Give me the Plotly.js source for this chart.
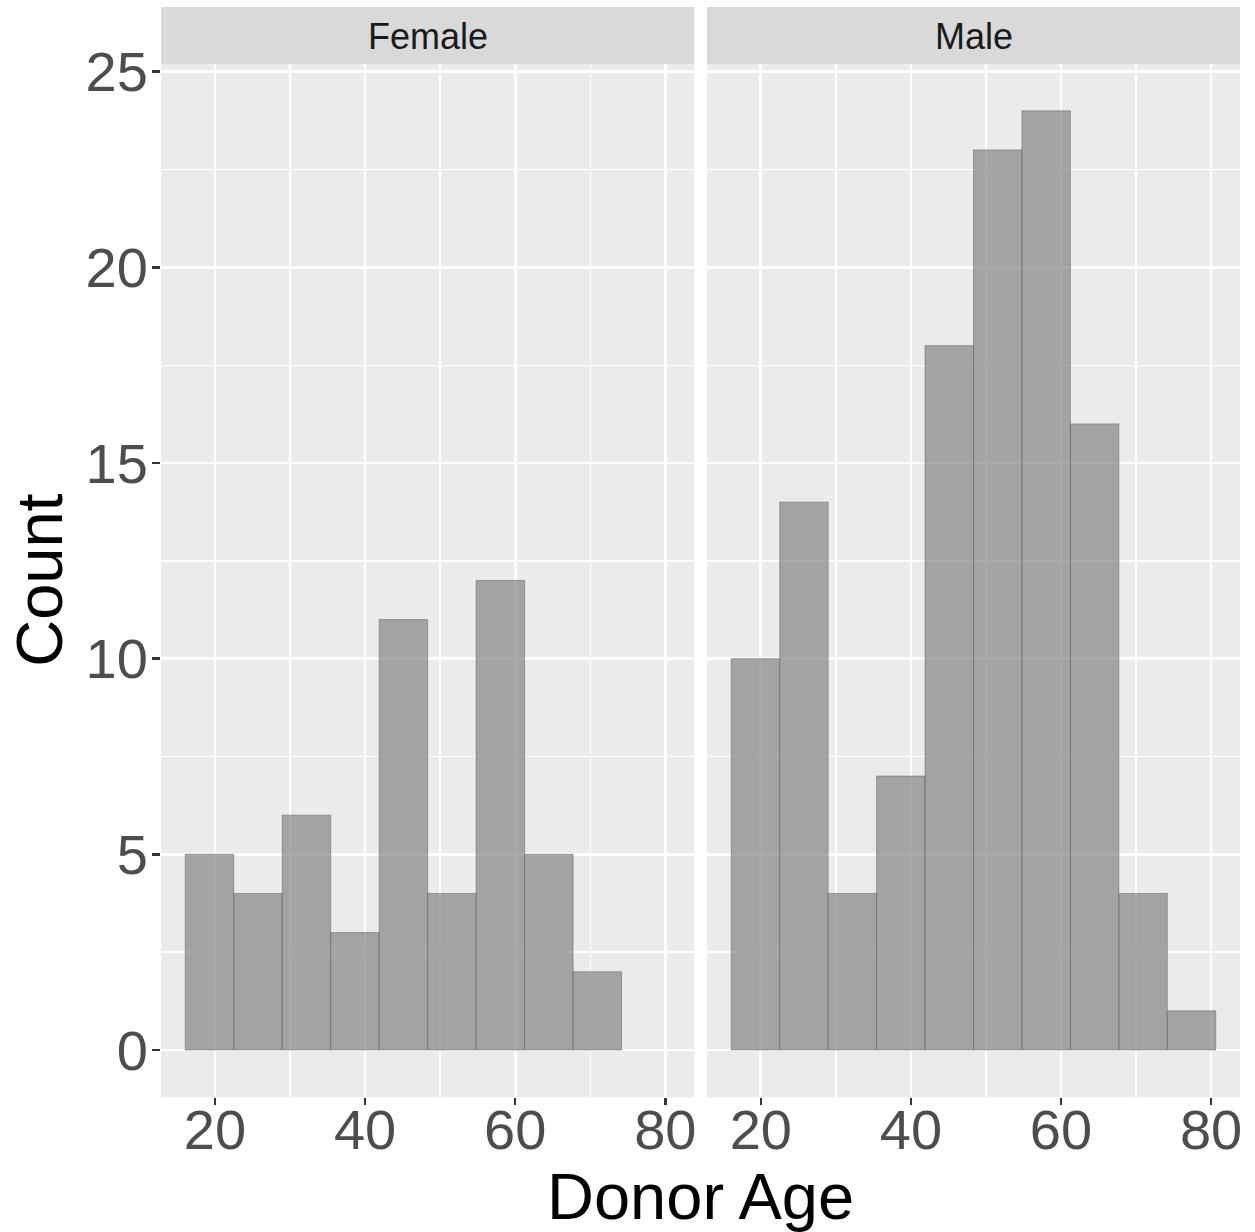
<!DOCTYPE html>
<html>
<head>
<meta charset="utf-8">
<script src="https://cdn.plot.ly/plotly-3.0.1.min.js"></script>
<style>html,body{margin:0;padding:0;background:#fff;}#chart{width:1255px;height:1232px;}</style>
</head>
<body>
<div id="chart"></div>
<script>
// Data
const panels = ["Female", "Male"];
const binStart = 16.05;
const binWidth = 6.458;
const femaleCounts = [5, 4, 6, 3, 11, 4, 12, 5, 2];
const maleCounts = [10, 14, 4, 7, 18, 23, 24, 16, 4, 1];
const xTicks = [20, 40, 60, 80];
const yTicks = [0, 5, 10, 15, 20, 25];

function centers(counts) {
  return counts.map((_, i) => binStart + binWidth * (i + 0.5));
}

const W = 1255, H = 1232;
const px = v => v / W;
const py = v => 1 - v / H;

const fDom = [px(161), px(694.3)];
const mDom = [px(707), px(1240)];
const yDom = [py(1097.3), py(64.3)];

const barStyle = {
  color: 'rgba(132,132,132,0.7)',
  line: {color: 'rgba(95,95,95,0.5)', width: 1}
};

const traces = [
  {type: 'bar', x: centers(femaleCounts), y: femaleCounts, width: binWidth,
   marker: barStyle, xaxis: 'x', yaxis: 'y', hoverinfo: 'x+y', showlegend: false},
  {type: 'bar', x: centers(maleCounts), y: maleCounts, width: binWidth,
   marker: barStyle, xaxis: 'x2', yaxis: 'y2', hoverinfo: 'x+y', showlegend: false}
];

const font = "'Liberation Sans', Arial, sans-serif";
const xRange = [12.82, 83.86];
const yRange = [-1.21, 25.19];

function xAxis(dom, anchor) {
  return {
    domain: dom, anchor: anchor, range: xRange,
    tickmode: 'array', tickvals: xTicks, ticktext: xTicks.map(String),
    ticks: 'outside', ticklen: 7, tickwidth: 2.5, tickcolor: '#333333',
    ticklabelstandoff: -24,
    tickfont: {family: font, size: 56, color: '#4D4D4D'},
    showgrid: true, gridcolor: '#FFFFFF', gridwidth: 2.8,
    minor: {tickmode: 'array', tickvals: [30, 50, 70], showgrid: true, gridcolor: '#FFFFFF', gridwidth: 1.4, ticks: ''},
    zeroline: false, showline: false, fixedrange: true
  };
}

const layout = {
  width: W, height: H,
  margin: {l: 0, r: 0, t: 0, b: 0},
  paper_bgcolor: '#FFFFFF', plot_bgcolor: '#EBEBEB',
  bargap: 0, showlegend: false,
  xaxis: xAxis(fDom, 'y'),
  xaxis2: xAxis(mDom, 'y2'),
  yaxis: {
    domain: yDom, anchor: 'x', range: yRange,
    tickmode: 'array', tickvals: yTicks, ticktext: yTicks.map(String),
    ticks: 'outside', ticklen: 8, tickwidth: 2.5, tickcolor: '#333333',
    ticklabelstandoff: -7,
    tickfont: {family: font, size: 56, color: '#4D4D4D'},
    showgrid: true, gridcolor: '#FFFFFF', gridwidth: 2.8,
    minor: {tickmode: 'array', tickvals: [2.5, 7.5, 12.5, 17.5, 22.5], showgrid: true, gridcolor: '#FFFFFF', gridwidth: 1.4, ticks: ''},
    zeroline: false, showline: false, fixedrange: true
  },
  yaxis2: {
    domain: yDom, anchor: 'x2', range: yRange, matches: 'y',
    tickmode: 'array', tickvals: yTicks, showticklabels: false, ticks: '',
    showgrid: true, gridcolor: '#FFFFFF', gridwidth: 2.8,
    minor: {tickmode: 'array', tickvals: [2.5, 7.5, 12.5, 17.5, 22.5], showgrid: true, gridcolor: '#FFFFFF', gridwidth: 1.4, ticks: ''},
    zeroline: false, showline: false, fixedrange: true
  },
  shapes: [
    {type: 'rect', xref: 'paper', yref: 'paper', x0: fDom[0], x1: fDom[1], y0: yDom[1], y1: py(7),
     fillcolor: '#D9D9D9', line: {width: 0}, layer: 'below'},
    {type: 'rect', xref: 'paper', yref: 'paper', x0: mDom[0], x1: mDom[1], y0: yDom[1], y1: py(7),
     fillcolor: '#D9D9D9', line: {width: 0}, layer: 'below'}
  ],
  annotations: [
    {text: panels[0], xref: 'paper', yref: 'paper', x: (fDom[0] + fDom[1]) / 2, y: py(36),
     xanchor: 'center', yanchor: 'middle', showarrow: false,
     font: {family: font, size: 36, color: '#1A1A1A'}},
    {text: panels[1], xref: 'paper', yref: 'paper', x: (mDom[0] + mDom[1]) / 2, y: py(36),
     xanchor: 'center', yanchor: 'middle', showarrow: false,
     font: {family: font, size: 36, color: '#1A1A1A'}},
    {text: 'Donor Age', xref: 'paper', yref: 'paper', x: px(700.5), y: py(1196),
     xanchor: 'center', yanchor: 'middle', showarrow: false,
     font: {family: font, size: 65, color: '#000000'}},
    {text: 'Count', xref: 'paper', yref: 'paper', x: px(40), y: py(580.8), textangle: -90,
     xanchor: 'center', yanchor: 'middle', showarrow: false,
     font: {family: font, size: 65, color: '#000000'}}
  ]
};

Plotly.newPlot('chart', traces, layout, {displayModeBar: false, staticPlot: true});
</script>
</body>
</html>
